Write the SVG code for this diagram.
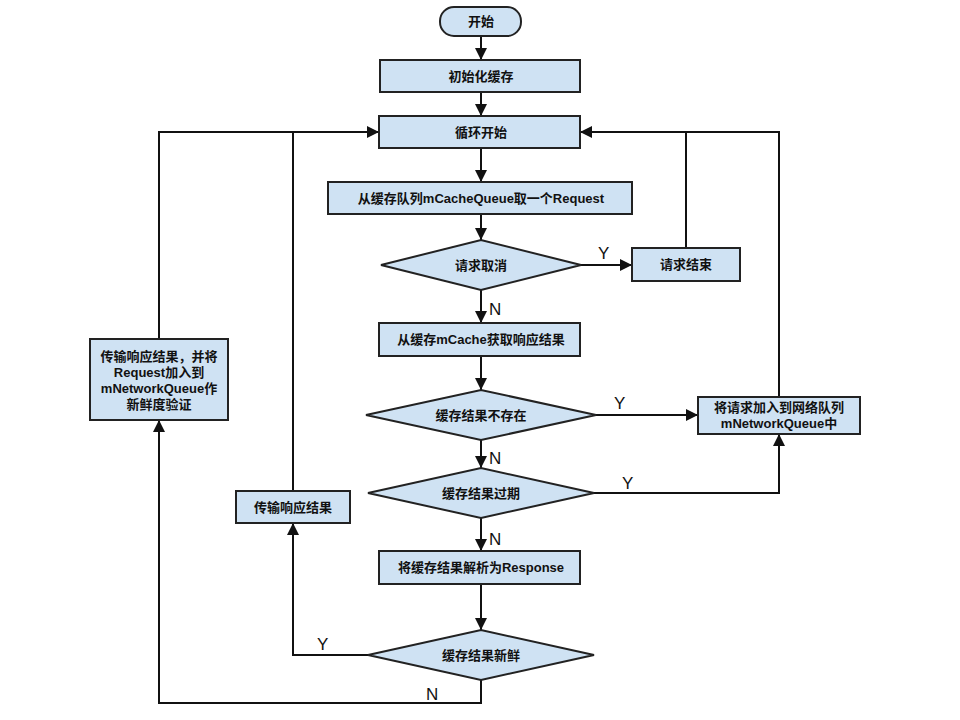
<svg xmlns="http://www.w3.org/2000/svg" width="960" height="720" viewBox="0 0 960 720">
<style>
.n{fill:#cfe2f3;stroke:#222;stroke-width:2}
.t{font-family:"Liberation Sans","Noto Sans CJK SC",sans-serif;font-size:13px;font-weight:bold;fill:#111;text-anchor:middle}
.c{fill:none;stroke:#111;stroke-width:2}
.l{font-family:"Liberation Sans",sans-serif;font-size:17px;fill:#111}
</style>
<defs><marker id="a" viewBox="0 0 10 10" refX="10" refY="5" markerWidth="6" markerHeight="6" orient="auto"><path d="M0,0L10,5L0,10z" fill="#111"/></marker></defs>
<rect width="960" height="720" fill="#fff"/>
<g id="connectors">
<path class="c" marker-end="url(#a)" d="M481,36V60"/>
<path class="c" marker-end="url(#a)" d="M481,92V116"/>
<path class="c" marker-end="url(#a)" d="M481,148V182"/>
<path class="c" marker-end="url(#a)" d="M481,214V240"/>
<path class="c" marker-end="url(#a)" d="M581,265H632"/>
<path class="c" marker-end="url(#a)" d="M686,248V132H580"/>
<path class="c" d="M779,397V132H686"/>
<path class="c" marker-end="url(#a)" d="M481,290V323"/>
<path class="c" marker-end="url(#a)" d="M481,356V390"/>
<path class="c" marker-end="url(#a)" d="M593,415H698"/>
<path class="c" marker-end="url(#a)" d="M481,440V468"/>
<path class="c" marker-end="url(#a)" d="M593,493H779V434"/>
<path class="c" marker-end="url(#a)" d="M481,518V551"/>
<path class="c" marker-end="url(#a)" d="M481,584V630"/>
<path class="c" marker-end="url(#a)" d="M368,655H293V523"/>
<path class="c" marker-end="url(#a)" d="M293,491V132H379"/>
<path class="c" marker-end="url(#a)" d="M481,680V703H159V420"/>
<path class="c" d="M159,339V132H293"/>
<text class="l" x="598" y="259">Y</text>
<text class="l" x="489" y="315">N</text>
<text class="l" x="614" y="409">Y</text>
<text class="l" x="489" y="464">N</text>
<text class="l" x="622" y="489">Y</text>
<text class="l" x="489" y="545">N</text>
<text class="l" x="317" y="650">Y</text>
<text class="l" x="426" y="700">N</text>
</g>
<g id="start"><rect class="n" x="440" y="7" width="81" height="29" rx="14"/><text class="t" x="481" y="26">开始</text></g>
<g id="init"><rect class="n" x="380" y="60" width="200" height="32"/><text class="t" x="481" y="81">初始化缓存</text></g>
<g id="loop"><rect class="n" x="379" y="116" width="201" height="32"/><text class="t" x="481" y="137">循环开始</text></g>
<g id="take"><rect class="n" x="328" y="182" width="304" height="32"/><text class="t" x="481" y="203">从缓存队列mCacheQueue取一个Request</text></g>
<g id="cancel"><path class="n" d="M381,265L481,240L581,265L481,290z"/><text class="t" x="481" y="270">请求取消</text></g>
<g id="end"><rect class="n" x="632" y="248" width="108" height="33"/><text class="t" x="686" y="269">请求结束</text></g>
<g id="get"><rect class="n" x="379" y="323" width="201" height="33"/><text class="t" x="481" y="344">从缓存mCache获取响应结果</text></g>
<g id="notexist"><path class="n" d="M366,415L481,390L596,415L481,440z"/><text class="t" x="481" y="420">缓存结果不存在</text></g>
<g id="net"><rect class="n" x="698" y="397" width="162" height="37"/><text class="t" x="779" y="412">将请求加入到网络队列</text><text class="t" x="779" y="428">mNetworkQueue中</text></g>
<g id="expired"><path class="n" d="M368,493L481,468L594,493L481,518z"/><text class="t" x="481" y="498">缓存结果过期</text></g>
<g id="deliver"><rect class="n" x="236" y="491" width="114" height="32"/><text class="t" x="293" y="512">传输响应结果</text></g>
<g id="parse"><rect class="n" x="379" y="551" width="201" height="33"/><text class="t" x="481" y="572">将缓存结果解析为Response</text></g>
<g id="fresh"><path class="n" d="M368,655L481,630L594,655L481,680z"/><text class="t" x="481" y="660">缓存结果新鲜</text></g>
<g id="refresh"><rect class="n" x="90" y="339" width="138" height="81"/><text class="t" x="159" y="361">传输响应结果，并将</text><text class="t" x="159" y="377">Request加入到</text><text class="t" x="159" y="393">mNetworkQueue作</text><text class="t" x="159" y="409">新鲜度验证</text></g>
</svg>
